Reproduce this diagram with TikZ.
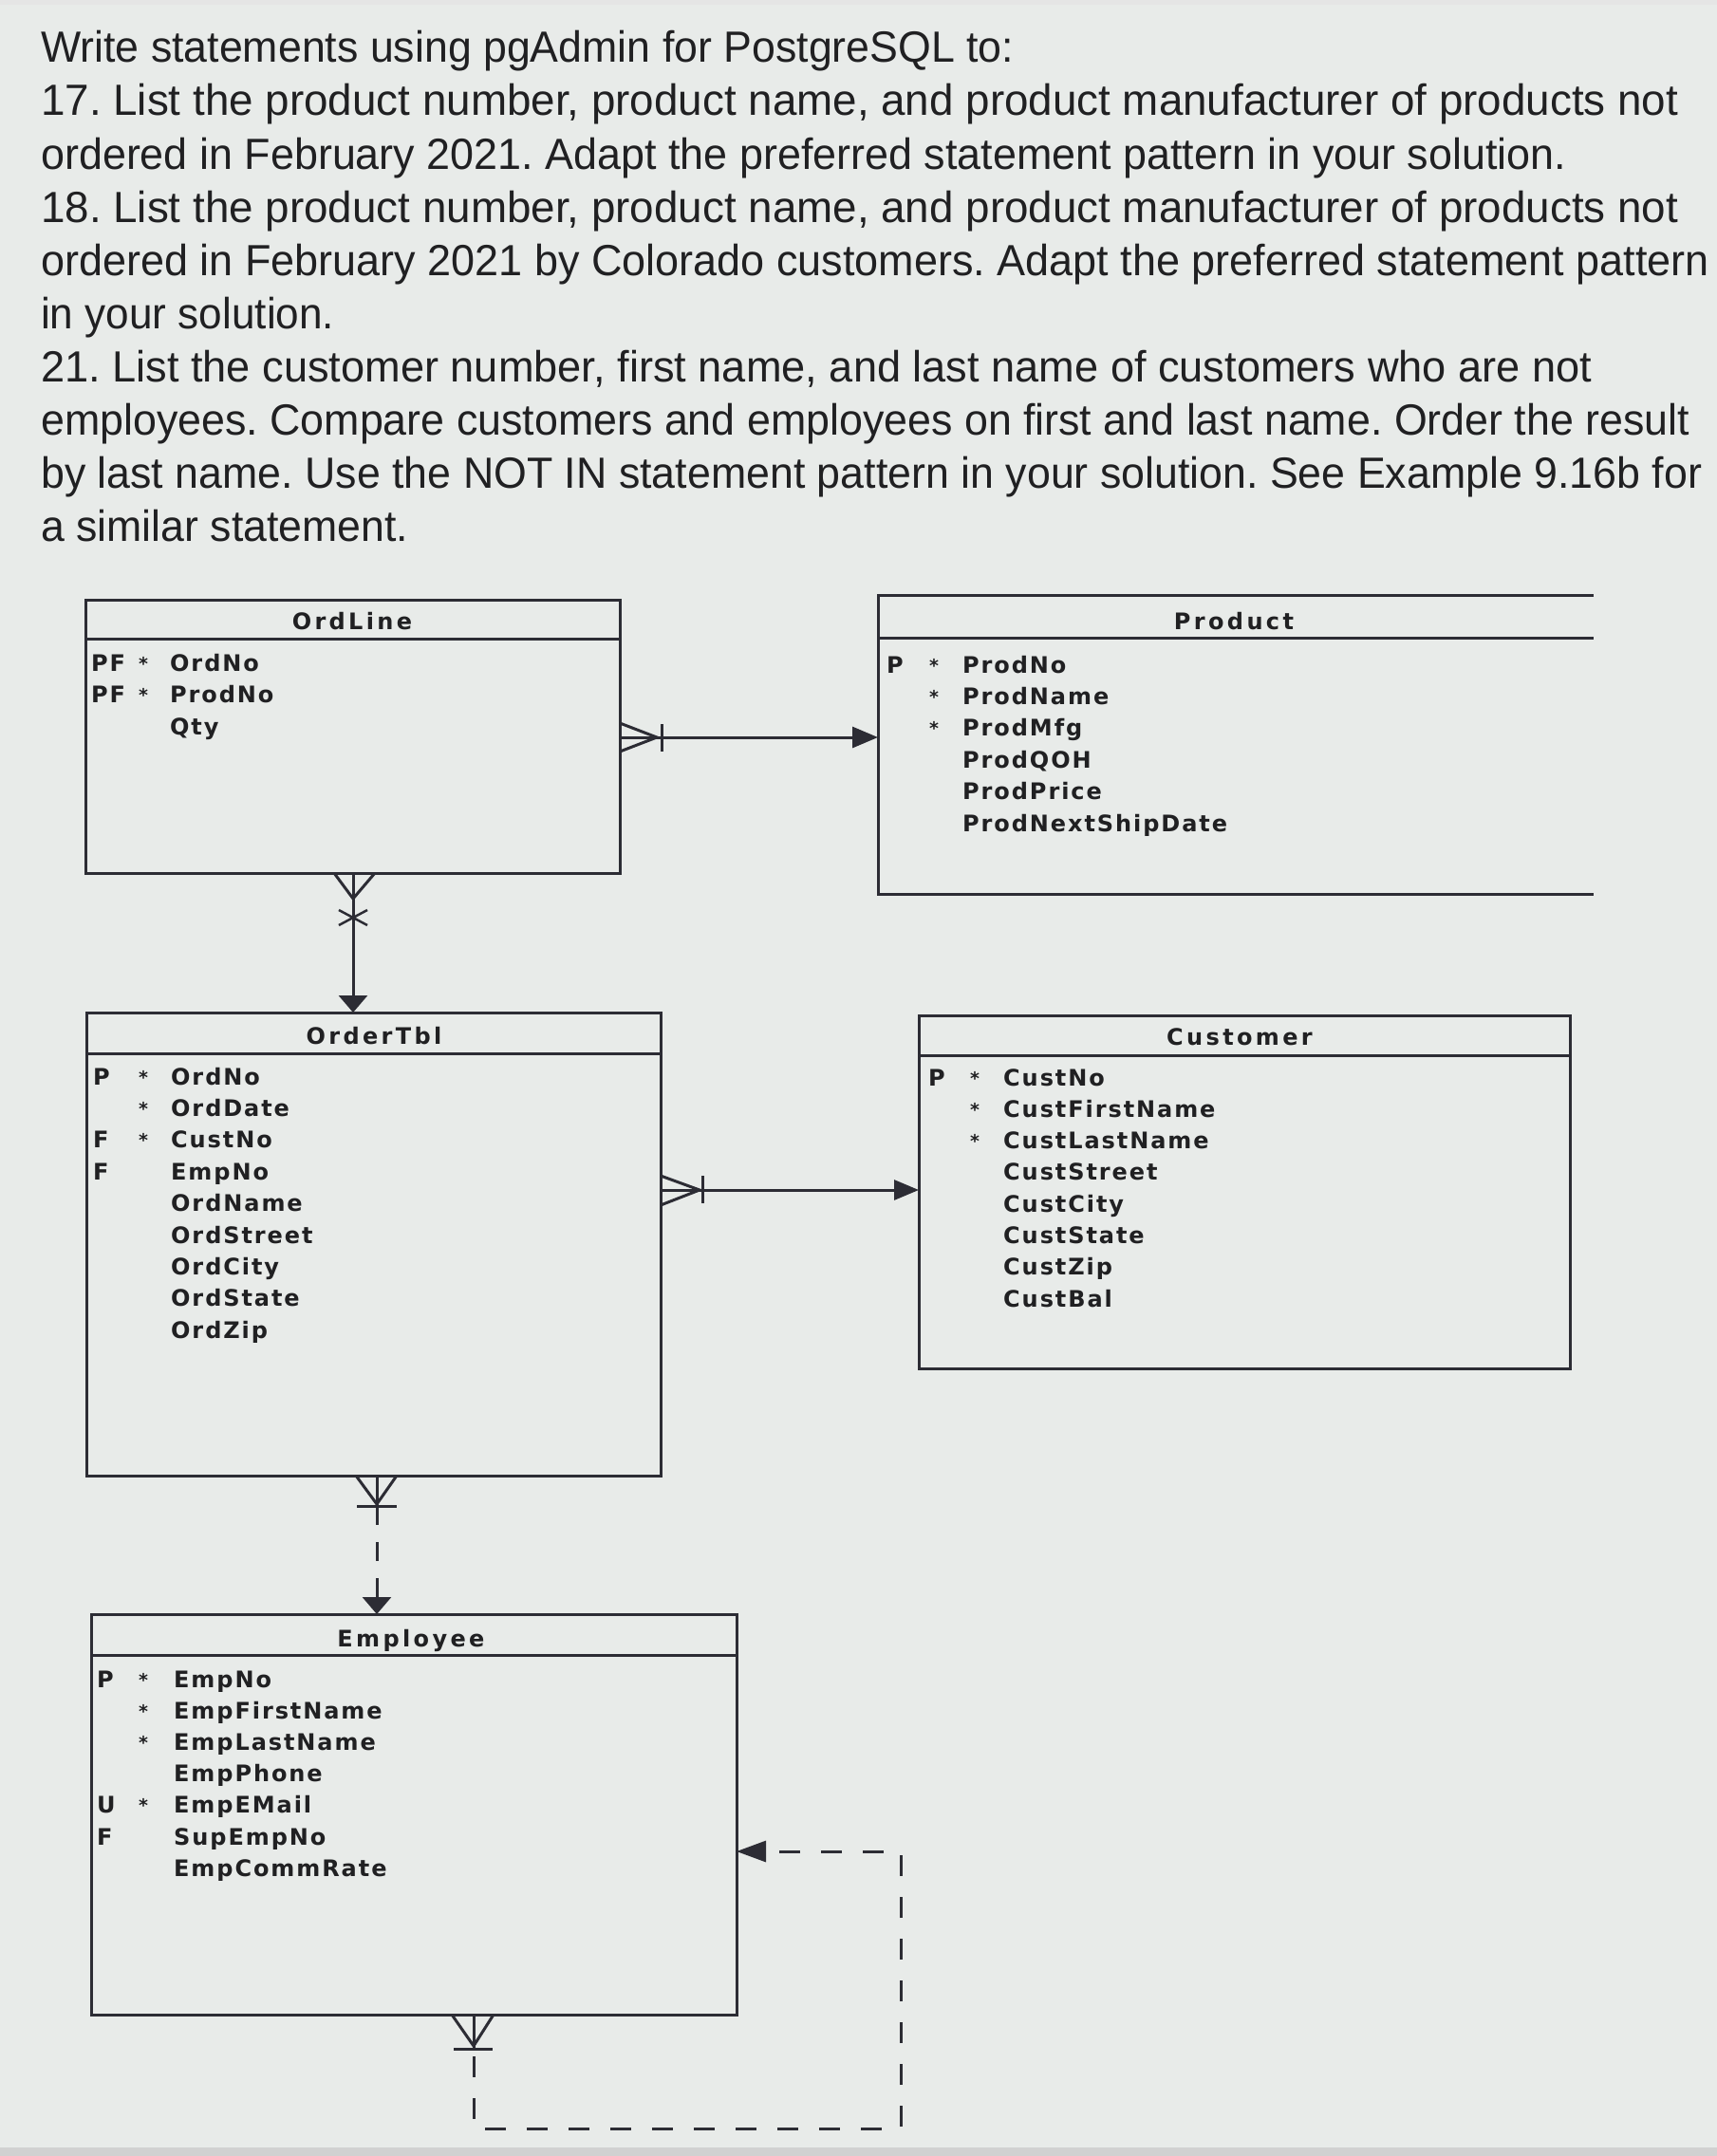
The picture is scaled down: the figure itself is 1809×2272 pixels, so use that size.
\documentclass[tikz,border=0pt]{standalone}
\usepackage{fontspec}
\usepackage{graphicx}
\setmainfont{Liberation Sans}
\newfontfamily\erfont[LetterSpace=8]{DejaVu Sans}
\newfontfamily\ttlfont[LetterSpace=14]{DejaVu Sans}
\usetikzlibrary{arrows.meta}
\definecolor{bgcol}{HTML}{E8EBE9}
\definecolor{ink}{HTML}{202022}
\definecolor{lin}{HTML}{2C2C34}
\newcommand\fitw[2]{\resizebox{#1pt}{\height}{#2}}
\tikzset{
  txt/.style={anchor=base west, inner sep=0pt, font=\frenchspacing\fontsize{46}{56}\selectfont, text=ink},
  ent/.style={inner sep=0pt, outer sep=0pt, anchor=north west},
  boxline/.style={draw=lin, line width=3pt},
  ttl/.style={anchor=base, inner sep=0pt, font=\ttlfont\bfseries\fontsize{24}{28}\selectfont, text=ink},
  att/.style={anchor=base west, inner sep=0pt, font=\erfont\bfseries\fontsize{24}{28}\selectfont, text=ink},
  pre/.style={anchor=base west, inner sep=0pt, font=\erfont\bfseries\fontsize{24}{28}\selectfont, text=ink},
  mk/.style={anchor=base, inner sep=0pt, font=\erfont\bfseries\fontsize{19}{20}\selectfont, text=ink},
  conn/.style={draw=lin, line width=3pt},
}
\begin{document}
\begin{tikzpicture}[x=1pt,y=1pt]
\fill[bgcol] (0,0) rectangle (1809,-2272);
\fill[black!18] (0,-2263) rectangle (1809,-2272);
\fill[black!10] (0,0) rectangle (1809,-5);
\useasboundingbox (0,0) rectangle (1809,-2272);

% ---------- question text ----------
\node[txt] (q1) at (43,-66) {\fitw{1025}{Write statements using pgAdmin for PostgreSQL to:}};
\node[txt] (q2) at (43,-122) {\fitw{1725}{17. List the product number, product name, and product manufacturer of products not}};
\node[txt] (q3) at (43,-178) {\fitw{1607}{ordered in February 2021. Adapt the preferred statement pattern in your solution.}};
\node[txt] (q4) at (43,-234) {\fitw{1725}{18. List the product number, product name, and product manufacturer of products not}};
\node[txt] (q5) at (43,-290) {\fitw{1758}{ordered in February 2021 by Colorado customers. Adapt the preferred statement pattern}};
\node[txt] (q6) at (43,-346) {\fitw{309}{in your solution.}};
\node[txt] (q7) at (43,-402) {\fitw{1634}{21. List the customer number, first name, and last name of customers who are not}};
\node[txt] (q8) at (43,-458) {\fitw{1737}{employees. Compare customers and employees on first and last name. Order the result}};
\node[txt] (q9) at (43,-514) {\fitw{1750}{by last name. Use the NOT IN statement pattern in your solution. See Example 9.16b for}};
\node[txt] (q10) at (43,-570) {\fitw{387}{a similar statement.}};

% ---------- entity boxes ----------
\node[ent, boxline, minimum width=563pt, minimum height=288pt] (ordline) at (90,-632) {};
\draw[boxline] (90,-673) -- (653,-673);
\node[ent, minimum width=754pt, minimum height=315pt] (product) at (925,-627) {};
\draw[boxline] (product.north east) -- (product.north west) -- (product.south west) -- (product.south east);
\draw[boxline] (925,-672) -- (1679,-672);
\node[ent, boxline, minimum width=605pt, minimum height=488pt] (ordertbl) at (91,-1067) {};
\draw[boxline] (91,-1110) -- (696,-1110);
\node[ent, boxline, minimum width=686pt, minimum height=372pt] (customer) at (968,-1070) {};
\draw[boxline] (968,-1112) -- (1654,-1112);
\node[ent, boxline, minimum width=680pt, minimum height=422pt] (employee) at (96,-1701) {};
\draw[boxline] (96,-1744) -- (776,-1744);

% ---------- titles ----------
\node[ttl] (t1) at (371,-663) {OrdLine};
\node[ttl] (t2) at (1300,-663) {Product};
\node[ttl] (t3) at (394,-1100) {OrderTbl};
\node[ttl] (t4) at (1306,-1101) {Customer};
\node[ttl] (t5) at (433,-1735) {Employee};

% ---------- OrdLine rows ----------
\foreach \t [count=\i] in {OrdNo,ProdNo,Qty}
  \node[att] (ola\i) at (179,{-707-33.5*(\i-1)}) {\t};
\node[pre] (olp1) at (96,-707) {PF};
\node[pre] (olp2) at (96,-740.5) {PF};
\node[mk] (olm1) at (151,-706) {*};
\node[mk] (olm2) at (151,-739.5) {*};

% ---------- Product rows ----------
\foreach \t [count=\i] in {ProdNo,ProdName,ProdMfg,ProdQOH,ProdPrice,ProdNextShipDate}
  \node[att] (pra\i) at (1014,{-709-33.4*(\i-1)}) {\t};
\node[pre] (prp1) at (934,-709) {P};
\foreach \i in {1,2,3}
  \node[mk] (prm\i) at (984,{-708-33.4*(\i-1)}) {*};

% ---------- OrderTbl rows ----------
\foreach \t [count=\i] in {OrdNo,OrdDate,CustNo,EmpNo,OrdName,OrdStreet,OrdCity,OrdState,OrdZip}
  \node[att] (ota\i) at (180,{-1143-33.4*(\i-1)}) {\t};
\node[pre] (otp1) at (98,-1143) {P};
\node[pre] (otp3) at (98,-1209.8) {F};
\node[pre] (otp4) at (98,-1243.2) {F};
\foreach \i in {1,2,3}
  \node[mk] (otm\i) at (151,{-1142-33.4*(\i-1)}) {*};

% ---------- Customer rows ----------
\foreach \t [count=\i] in {CustNo,CustFirstName,CustLastName,CustStreet,CustCity,CustState,CustZip,CustBal}
  \node[att] (cua\i) at (1057,{-1144-33.3*(\i-1)}) {\t};
\node[pre] (cup1) at (978,-1144) {P};
\foreach \i in {1,2,3}
  \node[mk] (cum\i) at (1027,{-1143-33.3*(\i-1)}) {*};

% ---------- Employee rows ----------
\foreach \t [count=\i] in {EmpNo,EmpFirstName,EmpLastName,EmpPhone,EmpEMail,SupEmpNo,EmpCommRate}
  \node[att] (ema\i) at (183,{-1778-33.2*(\i-1)}) {\t};
\node[pre] (emp1) at (102,-1778) {P};
\node[pre] (emp5) at (102,-1910.8) {U};
\node[pre] (emp6) at (102,-1944) {F};
\foreach \i in {1,2,3,5}
  \node[mk] (emm\i) at (151,{-1777-33.2*(\i-1)}) {*};

% ---------- connector anchors ----------
\coordinate (y1) at (0,-777);
\coordinate (x2) at (372,0);
\coordinate (y3) at (0,-1254);
\coordinate (x4) at (397,0);
\coordinate (x5) at (499,0);
\coordinate (y5) at (0,-1951);
\coordinate (k1) at (499,-2243);
\coordinate (k2) at (949,-2243);
\coordinate (k3) at (949,-1951);

% OrdLine -> Product
\draw[conn, -{Triangle[length=27pt,width=22pt]}] (ordline.east |- y1) -- (product.west |- y1);
\draw[conn, shift={(ordline.east |- y1)}] (0,15) -- (39,0) -- (0,-15);
\draw[conn, shift={(ordline.east |- y1)}] (44,14) -- (44,-15);

% OrdLine -> OrderTbl
\draw[conn, -{Triangle[length=18pt,width=30pt]}] (ordline.south -| x2) -- (ordertbl.north -| x2);
\draw[conn, shift={(ordline.south -| x2)}] (-20,0) -- (0,-27) -- (23,0);
\draw[conn, line width=2.5pt, shift={(ordline.south -| x2)}] (-15,-39) -- (15,-55) (-15,-55) -- (15,-39);

% OrderTbl -> Customer
\draw[conn, -{Triangle[length=26pt,width=21pt]}] (ordertbl.east |- y3) -- (customer.west |- y3);
\draw[conn, shift={(ordertbl.east |- y3)}] (0,15) -- (41,0) -- (0,-16);
\draw[conn, shift={(ordertbl.east |- y3)}] (44,15) -- (44,-14);

% OrderTbl -> Employee (dashed)
\draw[conn, dash pattern=on 52pt off 18pt on 20pt off 18pt on 60pt off 0pt, -{Triangle[length=18pt,width=30pt]}] (ordertbl.south -| x4) -- (employee.north -| x4);
\draw[conn, shift={(ordertbl.south -| x4)}] (-22,0) -- (0,-30) -- (21,0);
\draw[conn, shift={(ordertbl.south -| x4)}] (-21,-32) -- (21,-32);

% Employee -> Employee (self, dashed)
\draw[conn, dash pattern=on 22pt off 22pt, -{Triangle[length=31pt,width=22pt]}] (employee.south -| x5) -- (k1) -- (k2) -- (k3) -- (employee.east |- y5);
\draw[conn, shift={(employee.south -| x5)}] (-23,0) -- (0,-33) -- (21,0);
\draw[conn, shift={(employee.south -| x5)}] (0,0) -- (0,-36);
\draw[conn, shift={(employee.south -| x5)}] (-21,-36) -- (20,-36);
\end{tikzpicture}
\end{document}
